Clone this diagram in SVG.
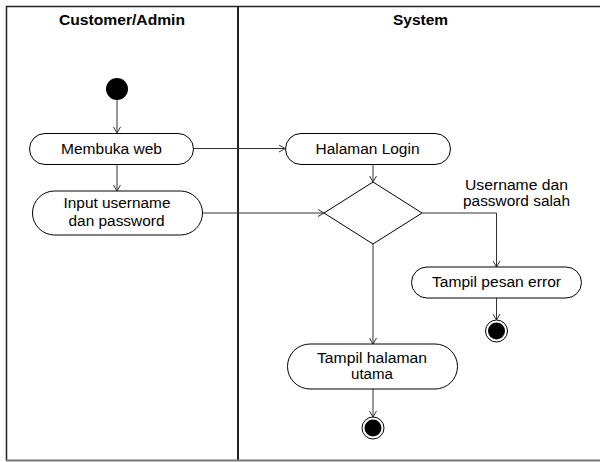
<svg xmlns="http://www.w3.org/2000/svg" width="600" height="462" viewBox="0 0 600 462">
  <style>
    .lane { fill: none; stroke: #222; }
    .act { fill: #fff; stroke: #000; stroke-width: 1; }
    .lbl { font-family: "Liberation Sans", Arial, sans-serif; font-size: 14px; fill: #000; text-anchor: middle; }
    .hdr { font-family: "Liberation Sans", Arial, sans-serif; font-size: 14px; font-weight: bold; fill: #000; text-anchor: middle; }
    .conn { fill: none; stroke: #333; stroke-width: 1; marker-end: url(#arrow); }
  </style>
  <defs>
    <marker id="arrow" viewBox="0 0 6 8" refX="6" refY="4" markerWidth="6" markerHeight="8" markerUnits="userSpaceOnUse" orient="auto">
      <path d="M0,0.5 L6,4 L0,7.5" fill="none" stroke="#333" stroke-width="1"/>
    </marker>
  </defs>

  <rect width="600" height="462" fill="#fff"/>

  <!-- swimlane frame -->
  <g id="lanes">
    <line x1="6" y1="6.5" x2="600" y2="6.5" class="lane" stroke-width="1.5"/>
    <line x1="6.5" y1="6" x2="6.5" y2="461" class="lane" stroke-width="1.5"/>
    <line x1="238" y1="6" x2="238" y2="461" class="lane" stroke-width="2"/>
    <line x1="6" y1="460.5" x2="600" y2="460.5" stroke="#777" stroke-width="2"/>
    <text class="hdr" x="122" y="25" textLength="126" lengthAdjust="spacingAndGlyphs">Customer/Admin</text>
    <text class="hdr" x="420.5" y="25" textLength="55" lengthAdjust="spacingAndGlyphs">System</text>
  </g>

  <!-- connectors -->
  <g id="connectors">
    <path class="conn" d="M117,100 V133"/>
    <path class="conn" d="M117,164 V191"/>
    <path class="conn" d="M193,148.5 H285"/>
    <path class="conn" d="M373,164 V182"/>
    <path class="conn" d="M202,213 H324"/>
    <path class="conn" d="M422,213 H496.5 V267"/>
    <path class="conn" d="M496.5,298 V320"/>
    <path class="conn" d="M373,244 V344"/>
    <path class="conn" d="M373,389 V417"/>
  </g>

  <g id="start">
    <circle cx="117" cy="89" r="11" fill="#000"/>
  </g>

  <g id="membuka-web">
    <rect class="act" x="29.5" y="133.5" width="164" height="31" rx="15.5"/>
    <text class="lbl" x="111.5" y="153.5" textLength="101" lengthAdjust="spacingAndGlyphs">Membuka web</text>
  </g>

  <g id="input-login">
    <rect class="act" x="32.5" y="191" width="170" height="44" rx="22"/>
    <text class="lbl" x="117" y="208" textLength="107" lengthAdjust="spacingAndGlyphs">Input username</text>
    <text class="lbl" x="116.5" y="226" textLength="96" lengthAdjust="spacingAndGlyphs">dan password</text>
  </g>

  <g id="halaman-login">
    <rect class="act" x="285.5" y="133.5" width="165" height="31" rx="15.5"/>
    <text class="lbl" x="367.5" y="153.5" textLength="104" lengthAdjust="spacingAndGlyphs">Halaman Login</text>
  </g>

  <g id="decision">
    <polygon class="act" points="373,182 422,213 373,244 324,213"/>
  </g>

  <g id="guard-label">
    <text class="lbl" x="516.5" y="190" textLength="103" lengthAdjust="spacingAndGlyphs">Username dan</text>
    <text class="lbl" x="516.5" y="206" textLength="107" lengthAdjust="spacingAndGlyphs">password salah</text>
  </g>

  <g id="pesan-error">
    <rect class="act" x="411.5" y="267" width="170" height="31" rx="15.5"/>
    <text class="lbl" x="496.5" y="287" textLength="129" lengthAdjust="spacingAndGlyphs">Tampil pesan error</text>
  </g>

  <g id="end-error">
    <circle cx="496.5" cy="331" r="11" fill="#fff" stroke="#000" stroke-width="1"/>
    <circle cx="496.5" cy="331" r="8.5" fill="#000"/>
  </g>

  <g id="halaman-utama">
    <rect class="act" x="287.5" y="344" width="170" height="45" rx="22.5"/>
    <text class="lbl" x="372" y="363" textLength="110" lengthAdjust="spacingAndGlyphs">Tampil halaman</text>
    <text class="lbl" x="372" y="379" textLength="42" lengthAdjust="spacingAndGlyphs">utama</text>
  </g>

  <g id="end-main">
    <circle cx="373" cy="428" r="11" fill="#fff" stroke="#000" stroke-width="1"/>
    <circle cx="373" cy="428" r="8.5" fill="#000"/>
  </g>
</svg>
